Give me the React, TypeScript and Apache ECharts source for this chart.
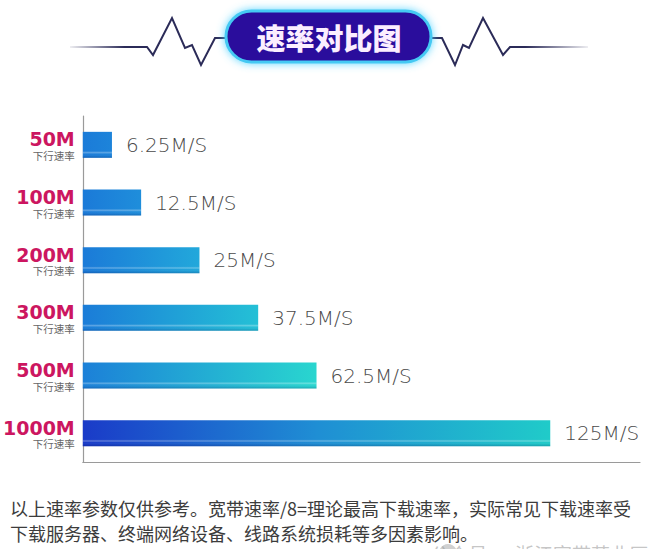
import React, { useEffect, useRef } from "react";
import * as echarts from "echarts";

const categories = ["50M", "100M", "200M", "300M", "500M", "1000M"];
const subLabel = "下行速率";
// bar lengths as drawn in the picture (axis units)
const barLengths = [7.8, 15.6, 31.2, 46.9, 62.5, 125];
const valueLabels = ["6.25M/S", "12.5M/S", "25M/S", "37.5M/S", "62.5M/S", "125M/S"];
const gradientStops: string[][] = [
  ["#1b7bd8", "#1d84da"],
  ["#1b7ad8", "#1f8edb"],
  ["#1b7ad8", "#22a8db"],
  ["#1b7cd8", "#24c0d6"],
  ["#1c80d8", "#29d6cf"],
  ["#1a3bc8", "#1f8ed4", "#20cbc9"],
];
const titleText = "速率对比图";
const noteLine1 = "以上速率参数仅供参考。宽带速率/8=理论最高下载速率，实际常见下载速率受";
const noteLine2 = "下载服务器、终端网络设备、线路系统损耗等多因素影响。";
const watermark = "公众号 · 浙江宽带营业厅";

export default function App() {
  const ref = useRef<HTMLDivElement>(null);
  useEffect(() => {
    if (!ref.current) return;
    const chart = echarts.init(ref.current, undefined, { renderer: "svg" });
    const lineColor = "#2b2b58";
    const leftBeat = [
      [70, 47], [147, 47], [153, 55], [172, 18], [185, 48], [192, 45], [201, 65], [215, 38], [226, 38],
    ];
    const rightBeat = [
      [431, 38], [442, 38], [455, 65], [463, 45], [469, 48], [483, 18], [503, 55], [510, 47], [588, 47],
    ];
    const barData = barLengths.map((v, i) => {
      const stops = gradientStops[i];
      return {
        value: v,
        itemStyle: {
          color: new echarts.graphic.LinearGradient(
            0, 0, 1, 0,
            stops.map((c, k) => ({ offset: k / (stops.length - 1), color: c }))
          ),
        },
      };
    });
    chart.setOption({
      animation: false,
      backgroundColor: "#ffffff",
      grid: { left: 78, right: 20, top: 116, bottom: 87, containLabel: false },
      xAxis: {
        type: "value",
        min: 0,
        max: 149,
        axisLine: { show: true, lineStyle: { color: "#9a9a9a", width: 1.2 } },
        axisTick: { show: false },
        axisLabel: { show: false },
        splitLine: { show: false },
      },
      yAxis: {
        type: "category",
        data: categories,
        inverse: true,
        axisLine: { show: true, onZero: false, lineStyle: { color: "#9a9a9a", width: 1.2 } },
        axisTick: { show: false },
        axisLabel: {
          margin: 8,
          formatter: (v: string) => `{a|${v}}\n{b|${subLabel}}`,
          rich: {
            a: {
              fontFamily: "DejaVu Sans",
              fontWeight: "bold",
              fontSize: 19,
              color: "#cc1660",
              lineHeight: 21,
            },
            b: {
              fontFamily: "Noto Sans CJK SC",
              fontSize: 10.5,
              color: "#666666",
              lineHeight: 11,
            },
          },
        },
      },
      series: [
        {
          type: "bar",
          data: barData,
          barWidth: 26,
          label: {
            show: true,
            position: "right",
            distance: 14,
            fontFamily: "DejaVu Sans",
            fontWeight: 200,
            fontSize: 20,
            color: "#4a4a4a",
            formatter: (p: any) => valueLabels[p.dataIndex],
          },
        },
        {
          type: "bar",
          data: barLengths,
          barWidth: 26,
          barGap: "-100%",
          silent: true,
          itemStyle: {
            color: new echarts.graphic.LinearGradient(0, 0, 0, 1, [
              { offset: 0, color: "rgba(255,255,255,0)" },
              { offset: 0.74, color: "rgba(255,255,255,0)" },
              { offset: 0.8, color: "rgba(255,255,255,0.3)" },
              { offset: 0.86, color: "rgba(255,255,255,0)" },
              { offset: 0.94, color: "rgba(0,0,60,0.08)" },
              { offset: 1, color: "rgba(0,0,60,0.2)" },
            ]),
          },
        },
      ],
      graphic: [
        {
          type: "polyline",
          shape: { points: leftBeat },
          style: {
            fill: "none",
            lineWidth: 2,
            stroke: new echarts.graphic.LinearGradient(0, 0, 1, 0, [
              { offset: 0, color: "rgba(43,43,88,0.08)" },
              { offset: 0.35, color: lineColor },
              { offset: 1, color: lineColor },
            ]),
          },
        },
        {
          type: "polyline",
          shape: { points: rightBeat },
          style: {
            fill: "none",
            lineWidth: 2,
            stroke: new echarts.graphic.LinearGradient(0, 0, 1, 0, [
              { offset: 0, color: lineColor },
              { offset: 0.6, color: lineColor },
              { offset: 1, color: "rgba(43,43,88,0.08)" },
            ]),
          },
        },
        {
          type: "rect",
          shape: { x: 226, y: 11, width: 205, height: 51, r: 25.5 },
          style: {
            fill: "#2a0c9c",
            stroke: "#45c9f3",
            lineWidth: 3,
            shadowBlur: 8,
            shadowColor: "rgba(80,210,255,0.9)",
          },
        },
        {
          type: "text",
          x: 329,
          y: 37,
          style: {
            text: titleText,
            fontFamily: "Noto Sans CJK SC",
            fontWeight: 900,
            fontSize: 29,
            fill: "#fbeeff",
            align: "center",
            verticalAlign: "middle",
          },
        },
        {
          type: "text",
          x: 10,
          y: 508,
          style: {
            text: noteLine1,
            fontFamily: "Noto Sans CJK SC",
            fontSize: 18,
            fill: "#3c3c3c",
            align: "left",
            verticalAlign: "middle",
          },
        },
        {
          type: "text",
          x: 10,
          y: 533,
          style: {
            text: noteLine2,
            fontFamily: "Noto Sans CJK SC",
            fontSize: 18,
            fill: "#3c3c3c",
            align: "left",
            verticalAlign: "middle",
          },
        },
        {
          type: "circle",
          shape: { cx: 448, cy: 553, r: 9 },
          style: { fill: "rgba(170,170,170,0.55)" },
        },
        {
          type: "text",
          x: 648,
          y: 553,
          style: {
            text: watermark,
            fontFamily: "Noto Sans CJK SC",
            fontSize: 19,
            fill: "rgba(160,160,160,0.6)",
            align: "right",
            verticalAlign: "middle",
          },
        },
      ],
    });
    return () => chart.dispose();
  }, []);
  return (
    <div
      ref={ref}
      style={{ position: "absolute", left: 0, top: 0, width: 660, height: 549 }}
    />
  );
}
